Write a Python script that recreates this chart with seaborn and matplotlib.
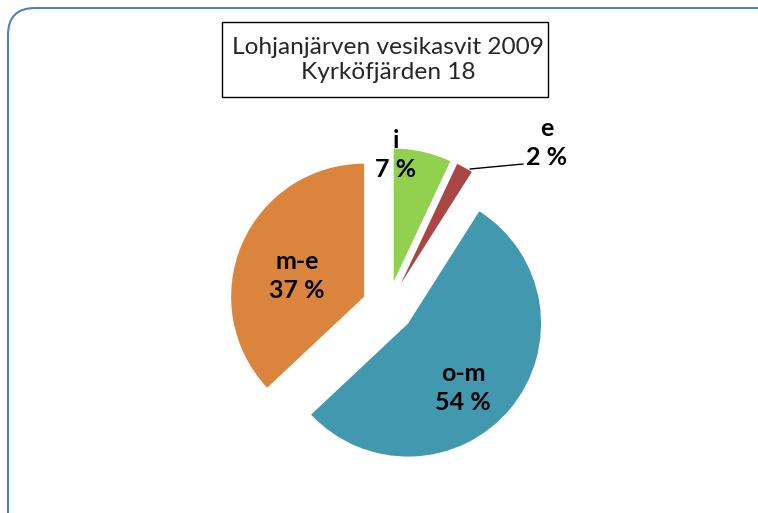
import matplotlib
matplotlib.use("Agg")
import matplotlib.pyplot as plt
from matplotlib.patches import FancyBboxPatch, Rectangle
import seaborn as sns

# data
categories = ["i", "e", "o-m", "m-e"]
shares = [7, 2, 54, 37]
colors = ["#92D050", "#AA4643", "#4198AF", "#DB843D"]
title_lines = ["Lohjanjärven vesikasvit 2009", "Kyrköfjärden 18"]

W, H = 758, 513

sns.set_theme(style="white")
plt.rcParams["font.family"] = ["Lato", "DejaVu Sans"]

fig = plt.figure(figsize=(W / 100, H / 100), dpi=100)
ax = fig.add_axes([0, 0, 1, 1])

# pixel layout (y from top)
cx, cy, r = 388, 307, 133
wedges, _ = ax.pie(shares, colors=colors, startangle=90, counterclock=False,
                   center=(cx, H - cy), radius=r, explode=[26] * len(shares),
                   wedgeprops=dict(linewidth=0))
ax.set_xlim(0, W)
ax.set_ylim(0, H)
ax.set_aspect("equal")
ax.axis("off")

# labels, placed like excel does
label_pos = [(396, 155), (547, 143), (463, 388), (297, 276)]
for cat, val, (lx, ly) in zip(categories, shares, label_pos):
    ax.text(lx, H - ly, f"{cat}\n{val} %", ha="center", va="center",
            fontsize=18, fontweight="bold", linespacing=1.35, color="black")
# leader line for the small slice
ax.plot([470, 523], [H - 169, H - 164], color="black", lw=1)

# title box
ax.add_patch(Rectangle((222, H - 97), 326, 75, facecolor="white",
                       edgecolor="black", lw=1))
ax.text(388, H - 60, "\n".join(title_lines), ha="center", va="center",
        fontsize=17.6, linespacing=1.25)

# chart area border (runs off the right and bottom edge)
ax.add_patch(FancyBboxPatch((8, H - 540), 800, 532,
                            boxstyle="round,pad=0,rounding_size=27",
                            facecolor="none", edgecolor="#4F81BD", lw=1.5,
                            clip_on=False))

fig.savefig("out.png", dpi=100)
